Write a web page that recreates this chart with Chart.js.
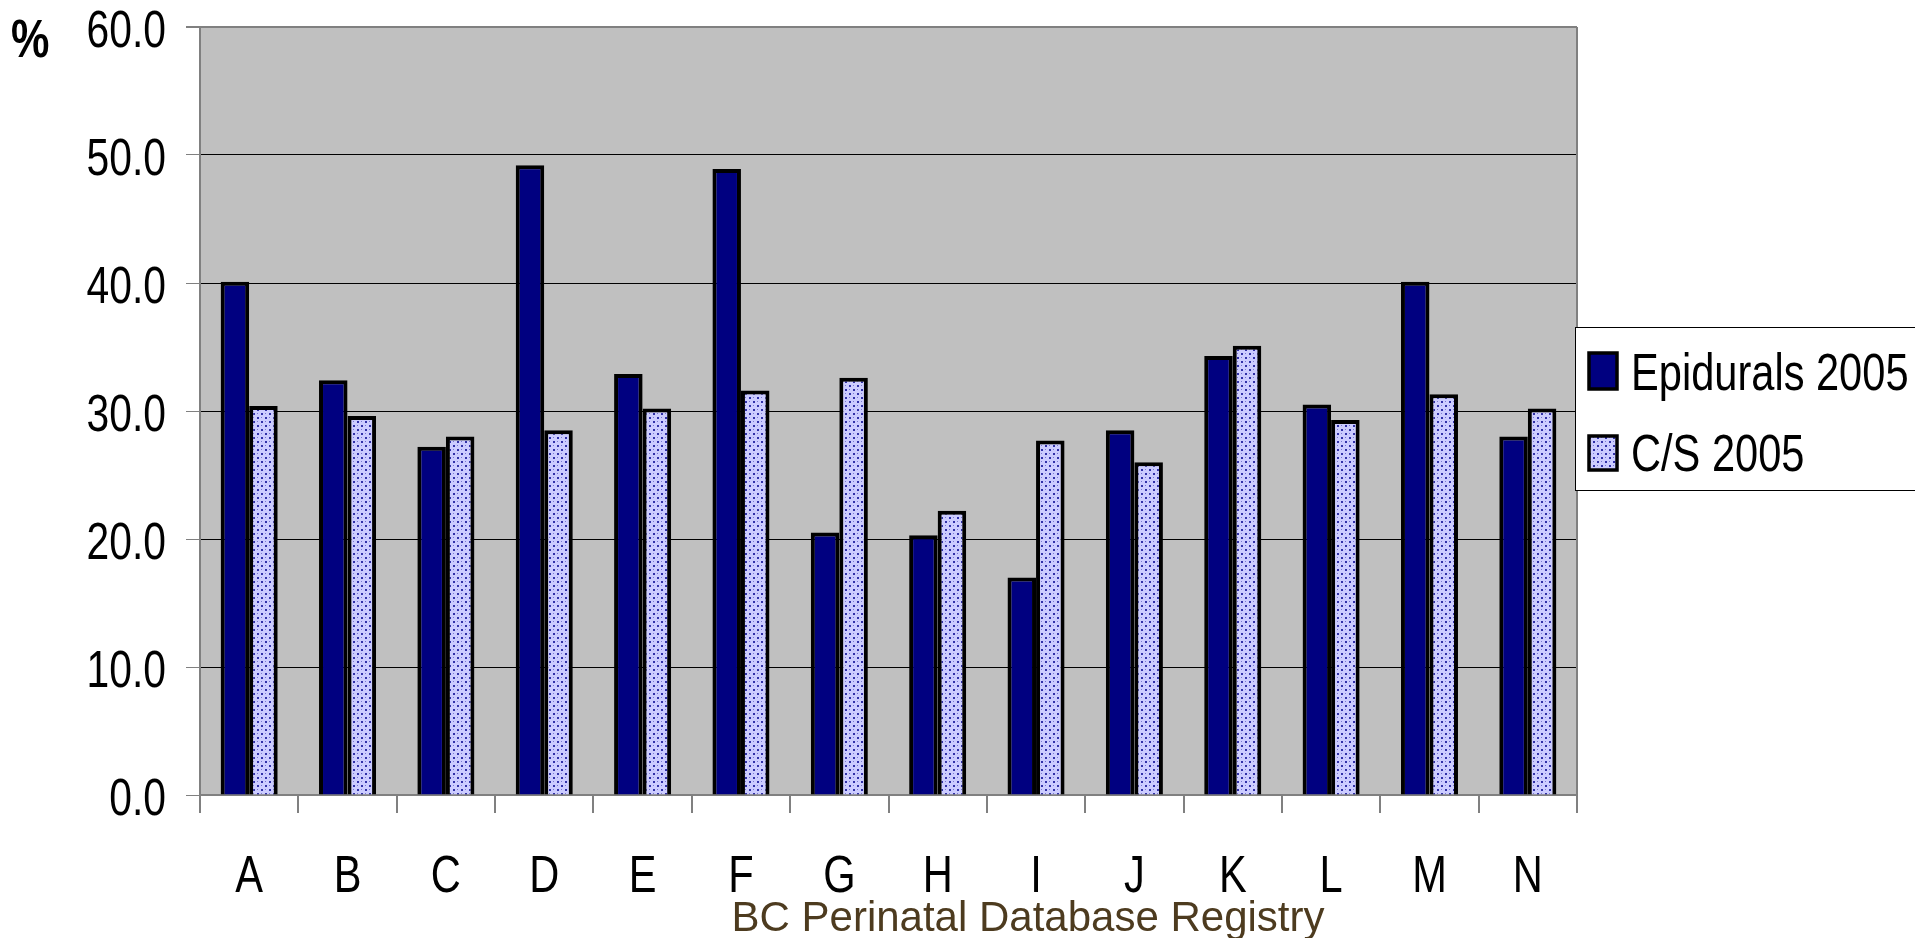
<!DOCTYPE html>
<html>
<head>
<meta charset="utf-8">
<title>Epidurals and C/S 2005</title>
<script src="https://cdn.jsdelivr.net/npm/chart.js@4.4.1/dist/chart.umd.min.js"></script>
<style>
    html, body { margin: 0; padding: 0; background: #ffffff; overflow: hidden; }
    #chart-wrapper { width: 1915px; height: 938px; }
</style>
</head>
<body>
<div id="chart-wrapper">
    <canvas id="epiChart" width="1915" height="938"></canvas>
</div>
<script>
// values
const hospitals = ['A', 'B', 'C', 'D', 'E', 'F', 'G', 'H', 'I', 'J', 'K', 'L', 'M', 'N'];
const epidurals2005 = [40.1, 32.4, 27.2, 49.2, 32.9, 48.9, 20.5, 20.3, 17.0, 28.5, 34.3, 30.5, 40.1, 28.0];
const cs2005 = [30.4, 29.6, 28.0, 28.5, 30.2, 31.6, 32.6, 22.2, 27.7, 26.0, 35.1, 29.3, 31.3, 30.2];
const yTicks = [0, 10, 20, 30, 40, 50, 60];
const seriesLabels = ['Epidurals 2005', 'C/S 2005'];
const unitLabel = '%';
const sourceNote = 'BC Perinatal Database Registry';

const FONT = "'Liberation Sans', Arial, sans-serif";
const AXIS_GRAY = '#808080';
const SQUEEZE = 0.8; // the reference text is a condensed (narrow) Arial

// draw text squeezed horizontally, like Arial Narrow
function narrowText(ctx, text, x, y, align, size, weight) {
    ctx.save();
    ctx.translate(x, y);
    ctx.scale(SQUEEZE, 1);
    ctx.font = (weight || 'normal') + ' ' + size + 'px ' + FONT;
    ctx.textAlign = align;
    ctx.textBaseline = 'alphabetic';
    ctx.fillText(text, 0, 0);
    ctx.restore();
}

// Dotted fill used for the C/S bars (small dark dots on lavender)
function makeDotPattern() {
    const tile = document.createElement('canvas');
    tile.width = 8;
    tile.height = 8;
    const t = tile.getContext('2d');
    t.fillStyle = '#ccccff';
    t.fillRect(0, 0, 8, 8);
    t.fillStyle = '#3030a8';
    t.fillRect(1, 1, 2, 2);
    t.fillRect(5, 5, 2, 2);
    t.fillStyle = '#7a7ad0';
    t.fillRect(5, 1, 1, 1);
    t.fillRect(1, 5, 1, 1);
    const c = document.createElement('canvas').getContext('2d');
    return c.createPattern(tile, 'repeat');
}
const dotPattern = makeDotPattern();

// Grey plot background + right border of the plot
const plotBackground = {
    id: 'plotBackground',
    beforeDraw(chart) {
        const { ctx, chartArea: a } = chart;
        ctx.save();
        ctx.fillStyle = '#c0c0c0';
        ctx.fillRect(a.left, a.top, a.right - a.left, a.bottom - a.top);
        ctx.restore();
    },
    afterDatasetsDraw(chart) {
        const { ctx, chartArea: a } = chart;
        ctx.save();
        ctx.strokeStyle = AXIS_GRAY;
        ctx.lineWidth = 2;
        ctx.beginPath();
        ctx.moveTo(a.right, a.top);
        ctx.lineTo(a.right, a.bottom);
        ctx.stroke();
        ctx.restore();
    }
};

// Tick labels, boxed legend, "%" unit label and source note
const extras = {
    id: 'extras',
    afterDraw(chart) {
        const { ctx } = chart;
        const xs = chart.scales.x;
        const ys = chart.scales.y;
        ctx.save();
        ctx.fillStyle = '#000';

        // y tick labels
        ys.ticks.forEach(t => {
            const py = ys.getPixelForValue(t.value);
            narrowText(ctx, Number(t.value).toFixed(1), 166, py + 20, 'right', 51);
        });

        // category labels
        chart.data.labels.forEach((lab, i) => {
            narrowText(ctx, lab, xs.getPixelForValue(i), 892, 'center', 52);
        });

        // unit
        narrowText(ctx, unitLabel, 11, 57, 'left', 54, 'bold');

        // legend box
        const boxLeft = 1575, boxTop = 327, boxBottom = 490;
        ctx.fillStyle = '#ffffff';
        ctx.fillRect(boxLeft, boxTop, 1915 - boxLeft, boxBottom - boxTop);
        ctx.strokeStyle = '#000';
        ctx.lineWidth = 1;
        ctx.strokeRect(boxLeft + 0.5, boxTop + 0.5, 1915 - boxLeft + 5, boxBottom - boxTop);

        const rows = [
            { top: 353, h: 36, base: 390 },
            { top: 436, h: 34, base: 471 }
        ];
        chart.data.datasets.forEach((ds, i) => {
            const r = rows[i];
            ctx.fillStyle = ds.backgroundColor;
            ctx.fillRect(1589, r.top, 28, r.h);
            ctx.strokeStyle = '#000';
            ctx.lineWidth = 3.5;
            ctx.strokeRect(1589, r.top, 28, r.h);
            ctx.fillStyle = '#000';
            narrowText(ctx, ds.label, 1631, r.base, 'left', 52);
        });

        // source note
        ctx.fillStyle = '#4d3b1f';
        ctx.font = '42px ' + FONT;
        ctx.textAlign = 'center';
        ctx.textBaseline = 'alphabetic';
        ctx.fillText(sourceNote, 1028, 931);

        ctx.restore();
    }
};

new Chart(document.getElementById('epiChart'), {
    type: 'bar',
    data: {
        labels: hospitals,
        datasets: [
            {
                label: seriesLabels[0],
                data: epidurals2005,
                backgroundColor: '#000080',
                borderColor: '#000000',
                borderWidth: 4,
                categoryPercentage: 0.58,
                barPercentage: 1.0
            },
            {
                label: seriesLabels[1],
                data: cs2005,
                backgroundColor: dotPattern,
                borderColor: '#000000',
                borderWidth: 4,
                categoryPercentage: 0.58,
                barPercentage: 1.0
            }
        ]
    },
    options: {
        responsive: false,
        maintainAspectRatio: false,
        devicePixelRatio: 1,
        animation: false,
        layout: { padding: { top: 27, right: 338, bottom: 0, left: 0 } },
        plugins: {
            legend: { display: false },
            tooltip: { enabled: false }
        },
        scales: {
            x: {
                grid: {
                    offset: true,
                    drawOnChartArea: false,
                    tickLength: 18,
                    tickColor: AXIS_GRAY,
                    lineWidth: 2
                },
                border: { color: AXIS_GRAY, width: 2 },
                ticks: { display: false },
                afterFit(scale) { scale.height = 938 - 795; }
            },
            y: {
                min: 0,
                max: 60,
                afterBuildTicks(scale) {
                    scale.ticks = yTicks.map(v => ({ value: v }));
                },
                grid: {
                    color: ctx => (ctx.tick && (ctx.tick.value === 60 || ctx.tick.value === 0)) ? AXIS_GRAY : '#000000',
                    lineWidth: ctx => (ctx.tick && ctx.tick.value === 60) ? 2 : 1,
                    tickLength: 14,
                    tickColor: AXIS_GRAY
                },
                border: { color: AXIS_GRAY, width: 2 },
                ticks: { display: false },
                afterFit(scale) { scale.width = 200; }
            }
        }
    },
    plugins: [plotBackground, extras]
});
</script>
</body>
</html>
